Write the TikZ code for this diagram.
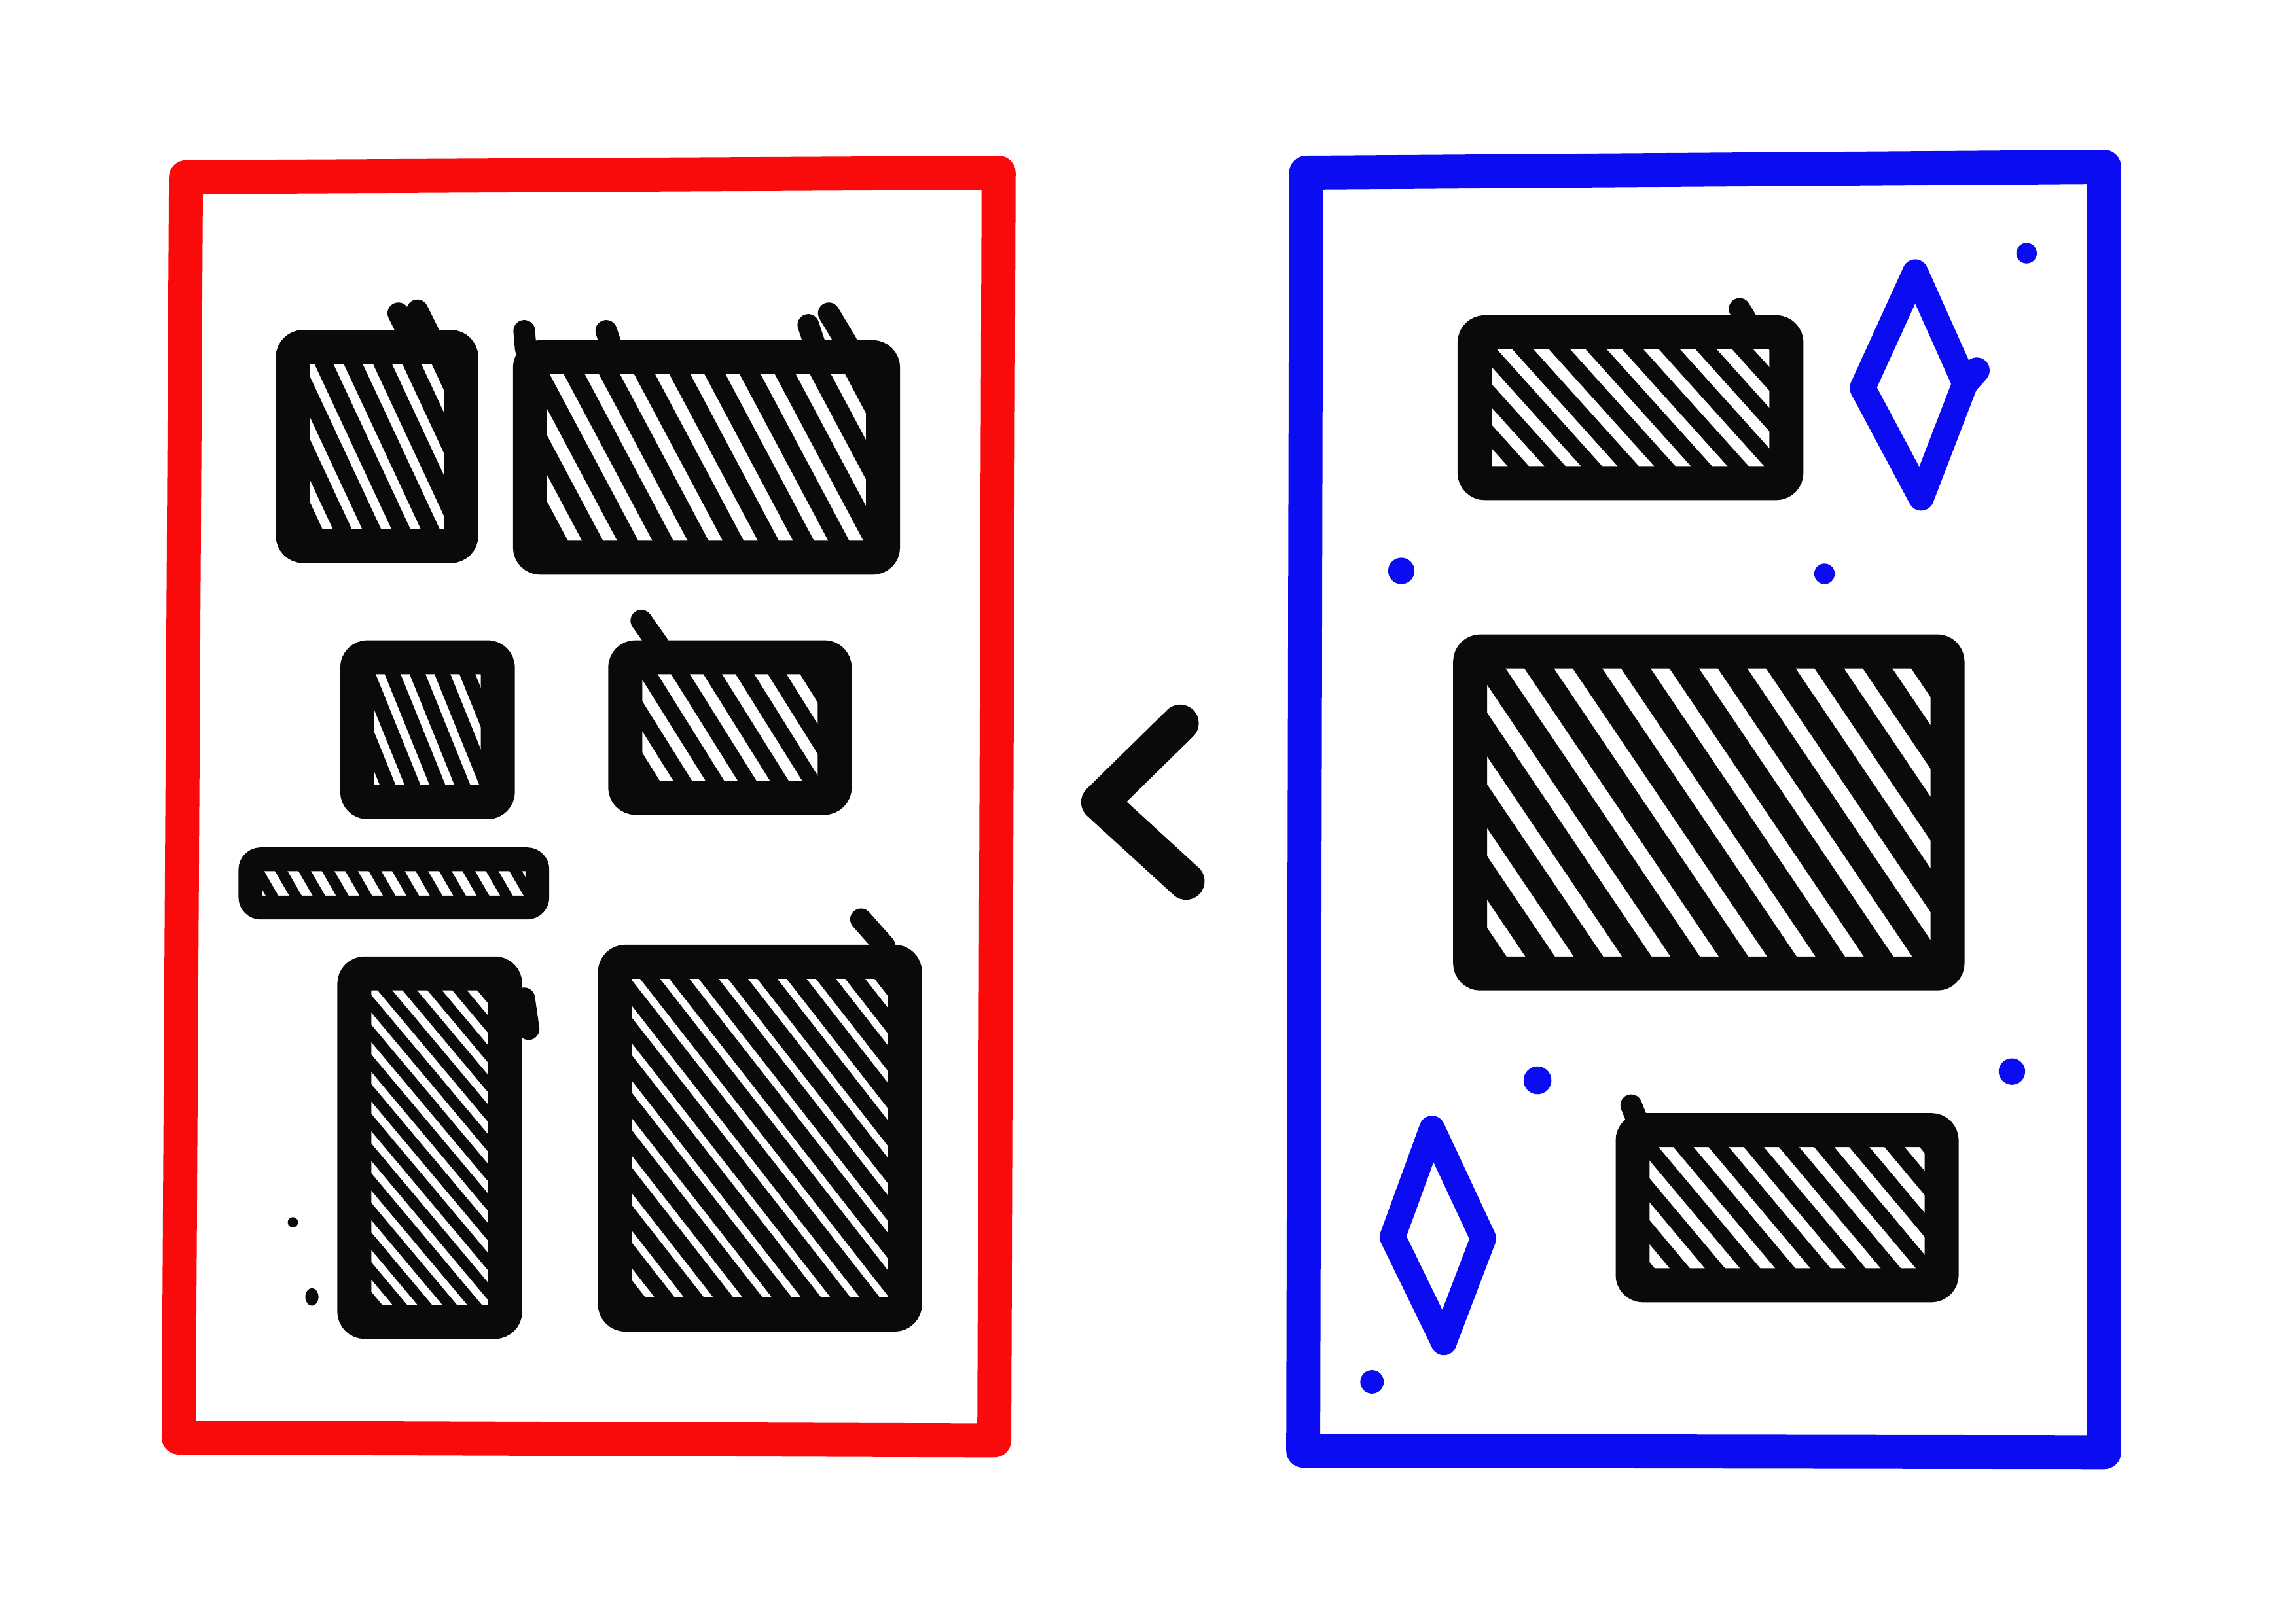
\documentclass[tikz,border=0pt]{standalone}
\usepackage{tikz}
\definecolor{ink}{HTML}{0A0A0A}
\definecolor{redpen}{HTML}{FA0A0A}
\definecolor{bluepen}{HTML}{0C0CF2}
\begin{document}
\begin{tikzpicture}[x=0.01cm, y=-0.01cm,
    redline/.style={redpen, line width=6.6pt, line join=round},
    blueline/.style={bluepen, line width=6.6pt, line join=round},
    sparkle/.style={bluepen, line width=5pt, line cap=round, line join=round},
    tick/.style={ink, line width=4.2pt, line cap=round},
    hatch/.style n args={3}{draw=ink, fill=ink, line width=6.6pt, rounded corners=2pt,
        path picture={
            \foreach \k in {-40,...,40}
                \draw[white, line width=#2]
                    ([xshift={\k*#1}]path picture bounding box.center) ++(#3:-4cm) -- ++(#3:8cm);
        }}]
    \useasboundingbox (0,0) rectangle (1568,1109);

    % Red frame (left)
    \draw[redline] (127,121) -- (682,118) -- (679,984) -- (122,982) -- cycle;

    % Blue frame (right)
    \draw[blueline] (892,118) -- (1437,114) -- (1437,992) -- (890,991) -- cycle;

    % Left boxes
    \draw[hatch={0.20cm}{1.8pt}{-65}] (200,237) rectangle (315,373);
    \draw[hatch={0.24cm}{2.4pt}{-62}] (362,244) rectangle (603,381);
    \draw[hatch={0.17cm}{1.6pt}{-68}] (244,449) rectangle (340,548);
    \draw[hatch={0.22cm}{2.2pt}{-58}] (427,449) rectangle (570,545);
    \draw[hatch={0.16cm}{1.8pt}{-60}, line width=4.6pt] (171,587) rectangle (367,620);
    \draw[hatch={0.17cm}{1.5pt}{-50}] (242,665) rectangle (345,903);
    \draw[hatch={0.20cm}{1.4pt}{-52}] (420,657) rectangle (618,898);

    % Right boxes
    \draw[hatch={0.25cm}{2.2pt}{-48}] (1007,227) rectangle (1220,330);
    \draw[hatch={0.33cm}{3.0pt}{-56}] (1004,445) rectangle (1330,665);
    \draw[hatch={0.24cm}{2.2pt}{-50}] (1115,772) rectangle (1326,878);

    % Sketch ticks
    \foreach \a/\b in {{272,214}/{280,230}, {285,212}/{294,230}, {358,226}/{359,238},
                       {414,226}/{418,238}, {552,222}/{556,234}, {566,214}/{578,234},
                       {438,424}/{450,441}, {588,628}/{604,646}, {358,682}/{361,703},
                       {1188,211}/{1194,221}, {1114,755}/{1118,765}}
        \draw[tick] (\a) -- (\b);
    \fill[ink] (200,835) circle (0.035cm);
    \fill[ink] (213,886) ellipse (0.045cm and 0.06cm);

    % Chevron
    \draw[ink, line width=7.2pt, line cap=round, line join=round]
        (806,494) -- (751,548) -- (810,602);

    % Sparkles
    \draw[sparkle] (1308,186) -- (1342,262) -- (1312,340) -- (1272,265) -- cycle;
    \draw[sparkle] (1342,262) -- (1350,253);
    \draw[sparkle] (978,771) -- (1013,846) -- (986,917) -- (951,845) -- cycle;

    % Dots
    \foreach \p/\r in {{1384,173}/0.07, {957,390}/0.09, {1246,392}/0.07,
                       {1050,738}/0.095, {1374,732}/0.09, {937,944}/0.08}
        \fill[bluepen] (\p) circle (\r cm);
\end{tikzpicture}
\end{document}
